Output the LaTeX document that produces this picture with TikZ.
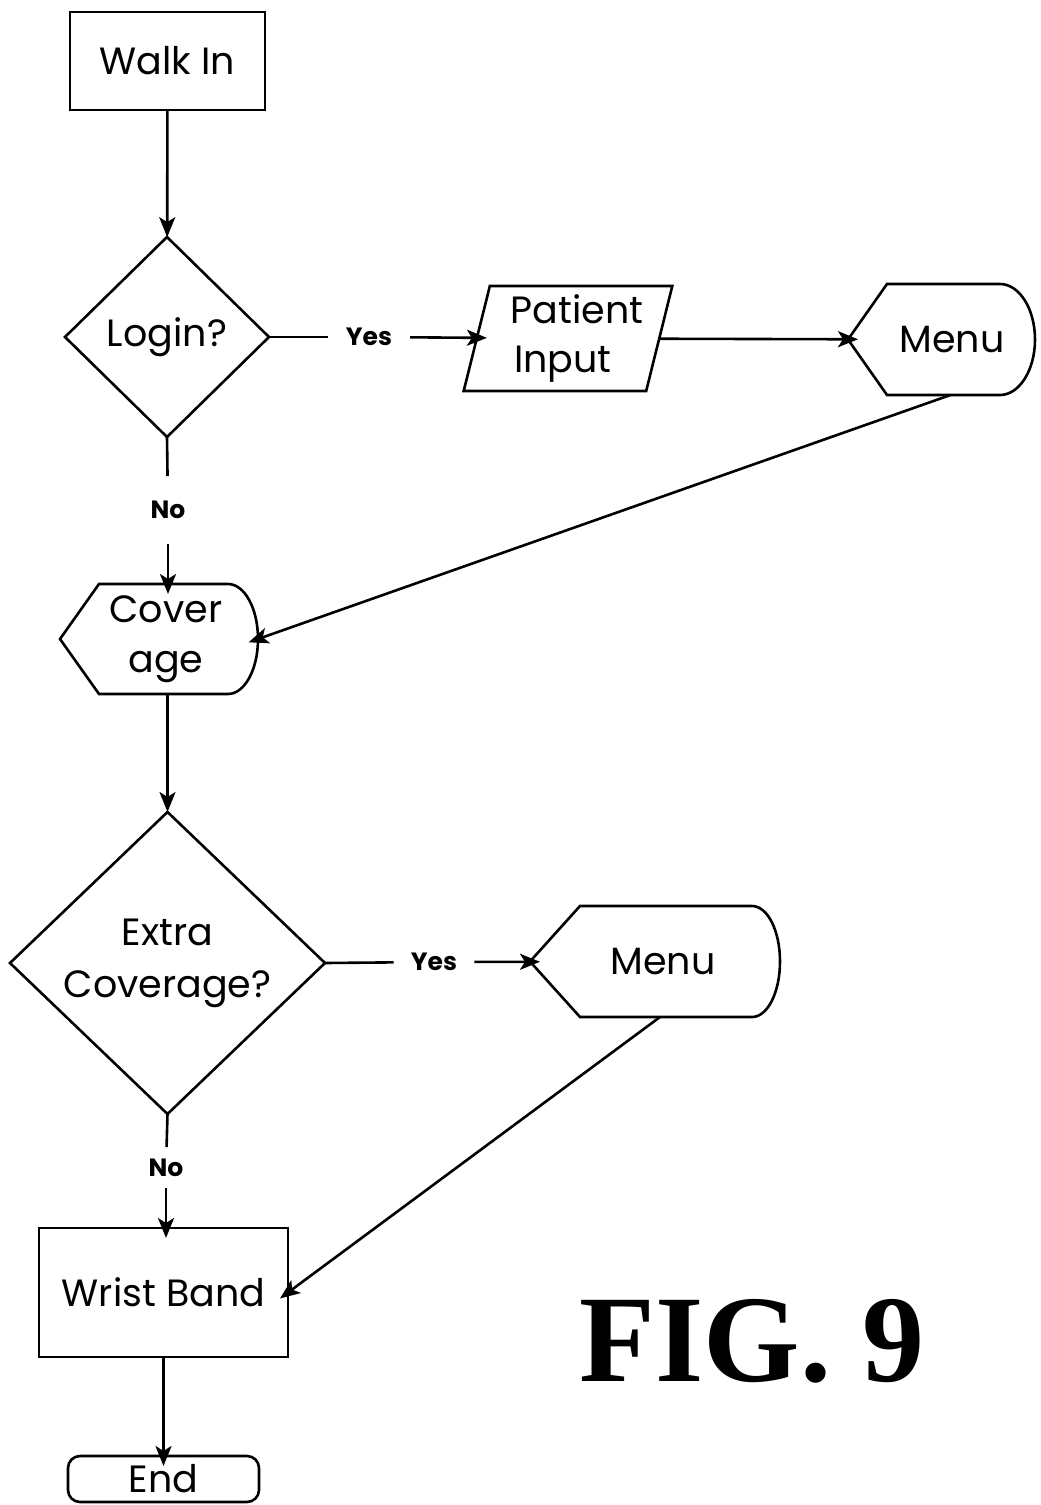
\documentclass[tikz,border=0pt]{standalone}
\usepackage{fontspec}
\usetikzlibrary{arrows.meta,shapes.geometric}
% geometric sans for the flowchart, bold serif for the figure caption
\newfontfamily\gothic{Poppins}
\newfontfamily\figfont{Liberation Serif}

\begin{document}
\begin{tikzpicture}[x=0.5pt,y=-0.5pt,
  every node/.style={inner sep=0pt, outer sep=0pt},
  shapeline/.style={line width=1.3pt, line join=miter},
  txt/.style={font=\gothic\fontsize{19}{25}\selectfont, align=center},
  lbl/.style={font=\gothic\bfseries\fontsize{12.5}{14}\selectfont},
  link/.style={line width=1.3pt},
  arrow/.style={link, -{Stealth[length=10pt,width=8pt,inset=2.5pt]}},
  into/.style={arrow, shorten >=-5pt},
]
\useasboundingbox (0,0) rectangle (1040,1505);

% ---- nodes ----
\node[txt, draw, shapeline, minimum width=97.5pt, minimum height=49pt] (walk) at (167.5,61) {Walk In};
\node[txt, draw, shapeline, diamond, minimum width=102pt, minimum height=100pt] (login) at (167,337) {Login?};
\node[lbl, inner xsep=9pt] (yes1) at (369,337) {Yes};
\node[txt, draw, shapeline, trapezium, trapezium left angle=74, trapezium right angle=106,
      trapezium stretches=true, minimum width=105pt, minimum height=52.5pt, font=\gothic\fontsize{19}{24.5}\selectfont]
      (pat) at (568,338.5) {\hspace*{9pt}Patient\\Input\hspace*{5pt}};

% display-shaped "Menu" (pointed left, rounded right)
\node[txt, minimum width=93.5pt, minimum height=55.5pt] (menu1) at (941.5,339.5) {\hspace*{10.5pt}Menu};
\draw[shapeline] (848,339.5) -- (887,284) -- (1000,284)
  .. controls (1019.3,284) and (1035,308.9) .. (1035,339.5)
  .. controls (1035,370.1) and (1019.3,395) .. (1000,395) -- (887,395) -- cycle;

\node[lbl, inner ysep=12.5pt] (no1) at (168,510) {No};

\node[txt, minimum width=99pt, minimum height=55pt] (cov) at (159,639) {\hspace*{7pt}Cover\\\hspace*{7pt}age};
\draw[shapeline] (60,639) -- (99,584) -- (228,584)
  .. controls (244.6,584) and (258,608.6) .. (258,639)
  .. controls (258,669.4) and (244.6,694) .. (228,694) -- (99,694) -- cycle;

\node[txt, draw, shapeline, diamond, minimum width=157.5pt, minimum height=151pt,
      font=\gothic\fontsize{19}{26}\selectfont] (extra) at (167.5,963) {Extra\\Coverage?};
\node[lbl, inner xsep=8.7pt] (yes2) at (434,962) {Yes};

\node[txt, minimum width=125pt, minimum height=55.5pt] (menu2) at (655,961.5) {\hspace*{8pt}Menu};
\draw[shapeline] (530,961.5) -- (580,906) -- (752,906)
  .. controls (767.5,906) and (780,930.6) .. (780,961.5)
  .. controls (780,992.4) and (767.5,1017) .. (752,1017) -- (580,1017) -- cycle;

\node[lbl, inner ysep=5.8pt] (no2) at (166,1167.5) {No};

\node[txt, draw, shapeline, minimum width=124.5pt, minimum height=64.5pt] (wrist) at (163.5,1292.5) {Wrist Band};
\node[txt, draw, shapeline, rounded corners=6pt, minimum width=95.5pt, minimum height=23pt] (end) at (163.5,1479) {End};

\node[font=\figfont\bfseries\fontsize{62}{62}\selectfont] (fig) at (752,1341) {FIG. 9};

% ---- connectors ----
\draw[arrow] (walk) -- (login);
\draw[link] (login.east) -- (yes1);
\draw[into] (yes1) -- (pat);
\draw[into] (pat) -- (menu1);
\draw[into] ([xshift=4.5pt]menu1.south) -- (cov.east);
\draw[link] (login.south) -- (no1);
\draw[into] (no1.south) -- (no1.south |- cov.north);
\draw[arrow] (cov.south -| extra.north) -- (extra.north);
\draw[link] (extra.east) -- (yes2);
\draw[into] (yes2) -- (menu2);
\draw[into] ([xshift=2.5pt]menu2.south) -- (wrist.east);
\draw[link] (extra.south) -- (no2);
\draw[into] (no2.south) -- (no2.south |- wrist.north);
\draw[into] (wrist.south) -- (end.north);
\end{tikzpicture}
\end{document}
